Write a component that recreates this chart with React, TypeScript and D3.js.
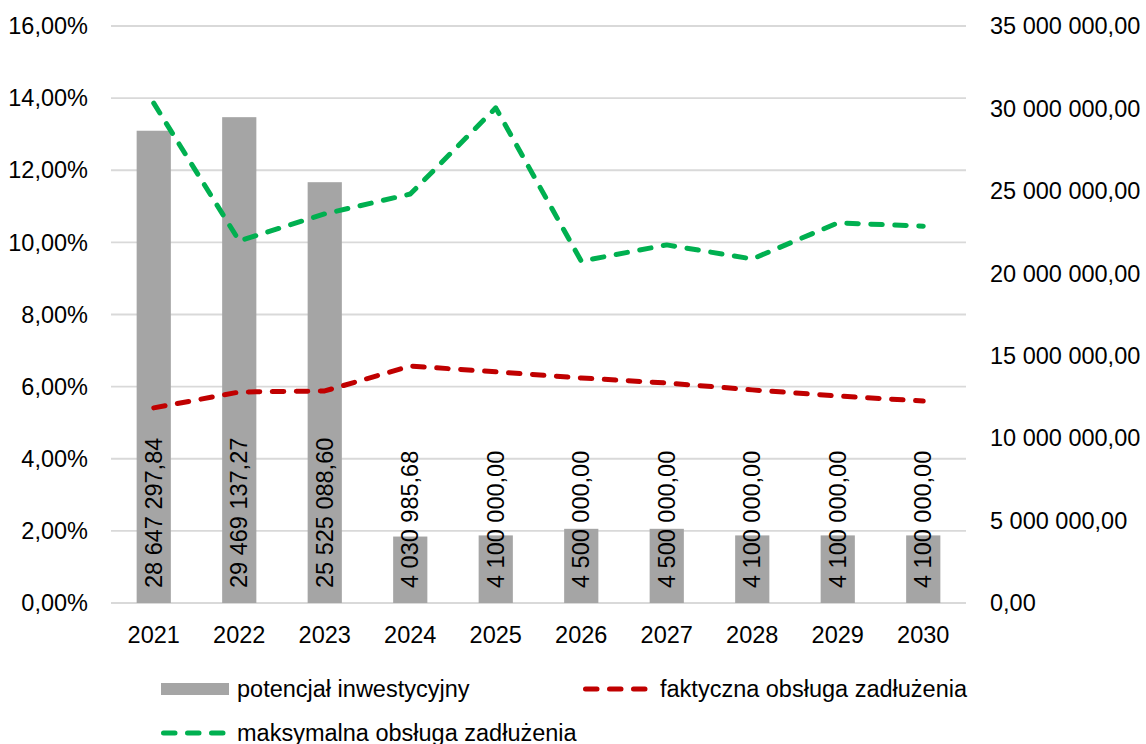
import React from 'react';
import * as d3 from 'd3';

const years = ['2021', '2022', '2023', '2024', '2025', '2026', '2027', '2028', '2029', '2030'];
const potencjal = [28647297.84, 29469137.27, 25525088.6, 4030985.68, 4100000, 4500000, 4500000, 4100000, 4100000, 4100000];
const faktyczna = [5.41, 5.85, 5.88, 6.57, 6.41, 6.24, 6.1, 5.91, 5.74, 5.6];
const maksymalna = [13.86, 10.04, 10.79, 11.34, 13.73, 9.48, 9.93, 9.54, 10.54, 10.45];
const leftTicks = [0, 2, 4, 6, 8, 10, 12, 14, 16];
const rightTicks = [0, 5e6, 10e6, 15e6, 20e6, 25e6, 30e6, 35e6];

const W = 1146;
const H = 744;
const plot = { left: 111, right: 966, top: 26, bottom: 603 };
const FONT = '"Liberation Sans", Arial, sans-serif';
const FS = 23.5;

const pl = d3.formatLocale({ decimal: ',', thousands: ' ', grouping: [3], currency: ['', ''] });
const fmtNum = pl.format(',.2f');
const fmtPct = (v: number) => pl.format('.2f')(v) + '%';

export default function App() {
  // scales
  const x = d3.scaleBand<string>().domain(years).range([plot.left, plot.right]).paddingInner(0.6).paddingOuter(0.3);
  const yL = d3.scaleLinear().domain([0, 16]).range([plot.bottom, plot.top]);
  const yR = d3.scaleLinear().domain([0, 35e6]).range([plot.bottom, plot.top]);
  const cx = (i: number) => (x(years[i]) as number) + x.bandwidth() / 2;

  const ln = d3.line<number>().x((_, i) => cx(i)).y((d) => yL(d));

  return (
    <svg width={W} height={H} style={{ position: 'absolute', left: 0, top: 0, fontFamily: FONT }}>
      <rect width={W} height={H} fill="#fff" />
      {/* gridlines */}
      {leftTicks.map((t) => (
        <line key={t} x1={plot.left} x2={plot.right} y1={yL(t)} y2={yL(t)} stroke="#d9d9d9" strokeWidth={1.8} />
      ))}
      {leftTicks.map((t) => (
        <text key={'l' + t} x={88} y={yL(t)} dy="0.35em" textAnchor="end" fontSize={FS} fill="#000">
          {fmtPct(t)}
        </text>
      ))}
      {rightTicks.map((t) => (
        <text key={'r' + t} x={990} y={yR(t)} dy="0.35em" textAnchor="start" fontSize={FS} fill="#000">
          {fmtNum(t)}
        </text>
      ))}
      {years.map((yr) => (
        <text key={yr} x={(x(yr) as number) + x.bandwidth() / 2} y={643} textAnchor="middle" fontSize={FS} fill="#000">
          {yr}
        </text>
      ))}
      {/* bars */}
      {potencjal.map((v, i) => (
        <rect key={i} x={x(years[i])} y={yR(v)} width={x.bandwidth()} height={plot.bottom - yR(v)} fill="#a5a5a5" />
      ))}
      {/* lines */}
      <path d={ln(faktyczna) || ''} fill="none" stroke="#c00000" strokeWidth={5} strokeDasharray="11.5 12.5" strokeLinecap="round" strokeLinejoin="round" />
      <path d={ln(maksymalna) || ''} fill="none" stroke="#00b050" strokeWidth={5} strokeDasharray="11.5 12.5" strokeLinecap="round" strokeLinejoin="round" />
      {/* data labels */}
      {potencjal.map((v, i) => (
        <text key={'d' + i} transform={`translate(${cx(i)},588) rotate(-90)`} dy="0.35em" textAnchor="start" fontSize={FS} fill="#000">
          {fmtNum(v)}
        </text>
      ))}
      {/* legend */}
      <rect x={161} y={683} width={68} height={12} fill="#a5a5a5" />
      <text x={237} y={697} fontSize={FS} fill="#000">potencjał inwestycyjny</text>
      <line x1={585.5} x2={646} y1={689} y2={689} stroke="#c00000" strokeWidth={5} strokeDasharray="11.5 12.5" strokeLinecap="round" />
      <text x={660} y={697} fontSize={FS} fill="#000">faktyczna obsługa zadłużenia</text>
      <line x1={163.5} x2={227} y1={733} y2={733} stroke="#00b050" strokeWidth={5} strokeDasharray="11.5 12.5" strokeLinecap="round" />
      <text x={237} y={741} fontSize={FS} fill="#000">maksymalna obsługa zadłużenia</text>
    </svg>
  );
}
